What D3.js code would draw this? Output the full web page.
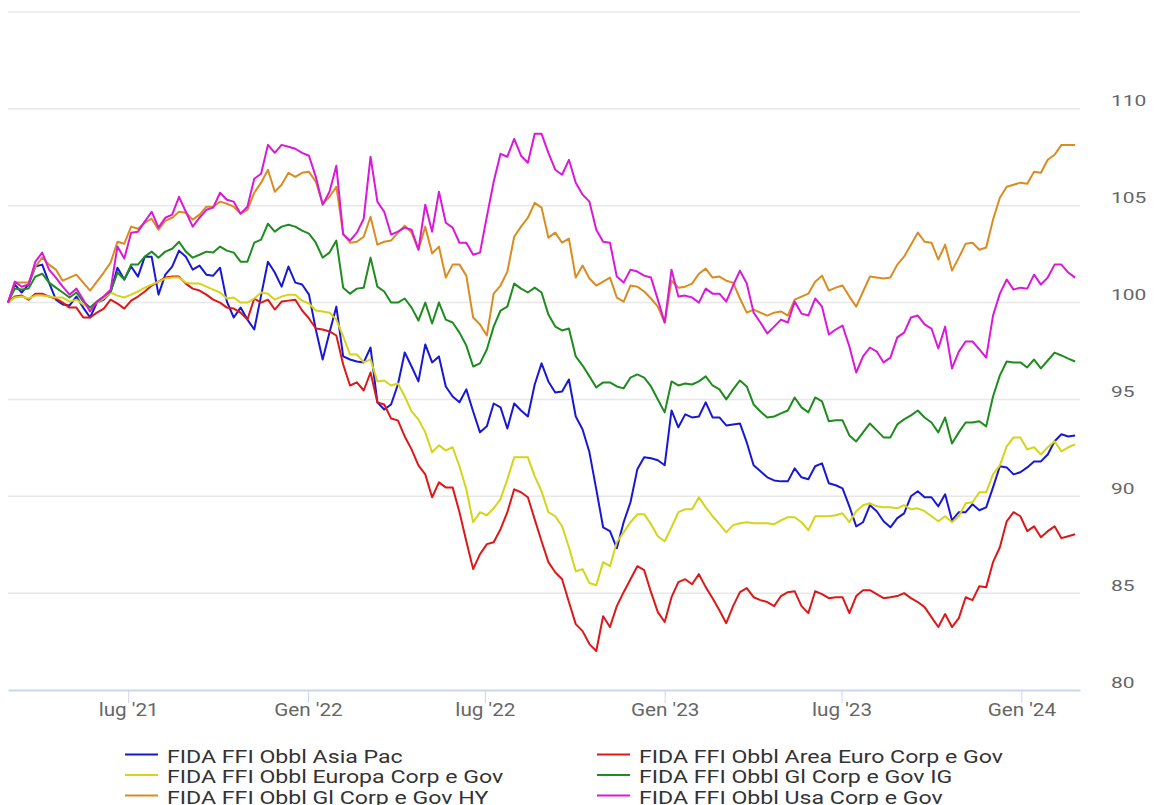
<!DOCTYPE html>
<html>
<head>
<meta charset="utf-8">
<script src="https://cdn.jsdelivr.net/npm/d3@7"></script>
<style>
  html, body { margin: 0; padding: 0; background: #ffffff; }
  svg { display: block; font-family: Roboto, "Noto Sans", sans-serif; }
</style>
</head>
<body>
<div id="chart"></div>
<script>
// weekly values, rebased to 100
const seriesNames = ["FIDA FFI Obbl Asia Pac", "FIDA FFI Obbl Area Euro Corp e Gov", "FIDA FFI Obbl Europa Corp e Gov",
    "FIDA FFI Obbl Gl Corp e Gov IG", "FIDA FFI Obbl Gl Corp e Gov HY", "FIDA FFI Obbl Usa Corp e Gov"];
const seriesColors = ["#1818d4", "#dc1818", "#d4d418", "#1e8c1e", "#da8c20", "#da18da"];

const asiaPac = [100.0, 100.93, 100.52, 100.93, 101.86, 101.96, 101.03, 100.15, 99.9, 99.85,
    100.31, 99.74, 99.23, 100.0, 100.15, 100.52, 101.8, 101.19, 101.86, 101.34,
    102.37, 102.37, 100.41, 101.44, 101.86, 102.68, 102.37, 101.7, 101.91, 101.44,
    101.39, 101.8, 100.05, 99.23, 99.74, 99.12, 98.61, 100.36, 102.11, 101.55,
    100.82, 101.86, 101.03, 100.93, 100.41, 98.61, 97.06, 98.45, 99.79, 97.22,
    97.06, 96.96, 96.91, 97.68, 94.85, 94.48, 94.74, 95.77, 97.42, 96.7,
    95.93, 97.84, 96.91, 97.22, 95.67, 95.15, 94.85, 95.52, 94.38, 93.3,
    93.61, 94.79, 94.59, 93.5, 94.79, 94.43, 94.12, 95.77, 96.86, 95.93,
    95.36, 95.41, 96.03, 94.12, 93.45, 92.27, 90.36, 88.4, 88.2, 87.32,
    88.66, 89.69, 91.39, 92.01, 91.96, 91.86, 91.6, 94.43, 93.56, 94.23,
    94.07, 94.12, 94.85, 94.07, 94.07, 93.66, 93.71, 93.76, 92.78, 91.6,
    91.29, 90.98, 90.82, 90.77, 90.77, 91.44, 90.98, 90.88, 91.55, 91.7,
    90.67, 90.57, 90.41, 89.48, 88.45, 88.66, 89.54, 89.23, 88.71, 88.4,
    88.87, 89.12, 90.0, 90.26, 89.95, 89.95, 89.48, 90.1, 88.76, 89.18,
    89.18, 89.59, 89.28, 89.43, 90.46, 91.55, 91.49, 91.13, 91.24, 91.49,
    91.8, 91.8, 92.16, 92.84, 93.2, 93.09, 93.14];

const areaEuro = [100.0, 100.31, 100.36, 100.15, 100.46, 100.46, 100.31, 100.21, 100.0, 99.74,
    99.74, 99.23, 99.23, 99.48, 99.69, 100.15, 99.95, 99.69, 100.1, 100.31,
    100.57, 100.88, 101.08, 101.29, 101.34, 101.34, 100.98, 100.72, 100.62, 100.41,
    100.15, 100.0, 99.74, 99.69, 99.48, 99.12, 100.21, 100.0, 100.15, 99.64,
    100.05, 100.1, 100.15, 99.59, 99.18, 98.66, 98.61, 98.51, 98.3, 96.8,
    95.72, 95.88, 95.46, 96.39, 94.85, 94.74, 94.02, 93.92, 93.09, 92.42,
    91.6, 91.13, 89.95, 90.72, 90.46, 90.46, 89.18, 87.68, 86.24, 87.01,
    87.53, 87.63, 88.3, 89.18, 90.36, 90.21, 89.95, 88.81, 87.68, 86.6,
    86.08, 85.72, 84.54, 83.4, 83.04, 82.37, 82.01, 83.81, 83.25, 84.33,
    85.05, 85.72, 86.39, 86.19, 85.05, 84.02, 83.51, 84.79, 85.57, 85.72,
    85.46, 85.98, 85.31, 84.74, 84.12, 83.45, 84.33, 85.05, 85.26, 84.79,
    84.64, 84.54, 84.33, 84.85, 85.05, 85.1, 84.33, 83.97, 85.1, 84.95,
    84.74, 84.79, 84.79, 83.97, 84.85, 85.15, 85.15, 84.95, 84.74, 84.79,
    84.85, 85.0, 84.74, 84.54, 84.28, 83.76, 83.25, 83.92, 83.25, 83.71,
    84.79, 84.64, 85.36, 85.31, 86.6, 87.37, 88.71, 89.18, 88.97, 88.2,
    88.45, 87.89, 88.2, 88.45, 87.84, 87.94, 88.04];

const europa = [100.0, 100.26, 100.31, 100.21, 100.36, 100.36, 100.31, 100.26, 100.26, 100.05,
    100.15, 99.9, 99.74, 100.0, 100.21, 100.52, 100.36, 100.26, 100.41, 100.57,
    100.77, 100.93, 101.08, 101.24, 101.29, 101.29, 101.03, 100.98, 100.98, 100.82,
    100.67, 100.52, 100.21, 100.26, 100.0, 100.0, 100.21, 100.52, 100.46, 100.15,
    100.31, 100.41, 100.41, 100.1, 99.95, 99.59, 99.54, 99.48, 99.12, 98.25,
    97.32, 97.32, 96.91, 97.06, 95.93, 95.98, 95.72, 95.82, 95.15, 94.38,
    93.97, 93.3, 92.27, 92.63, 92.37, 92.53, 91.55, 90.36, 88.66, 89.18,
    89.02, 89.38, 89.85, 90.88, 92.01, 92.01, 92.01, 91.03, 90.26, 89.18,
    88.97, 88.45, 87.37, 86.13, 86.24, 85.52, 85.41, 86.6, 86.39, 87.63,
    88.14, 88.66, 89.07, 89.07, 88.56, 87.94, 87.68, 88.4, 89.18, 89.33,
    89.33, 89.95, 89.43, 88.97, 88.56, 88.14, 88.51, 88.61, 88.66, 88.61,
    88.61, 88.61, 88.56, 88.76, 88.92, 88.92, 88.66, 88.25, 88.97, 88.97,
    88.97, 89.02, 89.12, 88.66, 89.23, 89.54, 89.64, 89.48, 89.43, 89.43,
    89.38, 89.54, 89.33, 89.38, 89.23, 88.97, 88.71, 88.97, 88.66, 88.97,
    89.64, 89.69, 90.21, 90.21, 91.13, 91.6, 92.58, 93.04, 93.04, 92.42,
    92.53, 92.16, 92.53, 92.84, 92.32, 92.53, 92.68];

const glIG = [100.0, 100.72, 100.67, 100.72, 101.34, 101.49, 101.03, 100.77, 100.52, 100.26,
    100.52, 100.05, 99.74, 100.05, 100.31, 100.57, 101.55, 101.19, 101.96, 101.96,
    102.37, 102.63, 102.32, 102.63, 102.78, 103.14, 102.63, 102.32, 102.47, 102.63,
    102.58, 102.89, 102.68, 102.58, 102.11, 102.11, 103.09, 103.25, 104.07, 103.66,
    103.92, 104.02, 103.92, 103.71, 103.56, 103.09, 102.32, 102.58, 103.2, 100.77,
    100.46, 100.72, 100.77, 102.32, 100.82, 100.57, 100.0, 100.0, 100.21, 99.74,
    99.07, 100.0, 98.92, 100.0, 99.12, 98.97, 98.45, 97.78, 96.7, 96.86,
    97.58, 98.76, 99.59, 99.79, 100.98, 100.72, 100.52, 100.77, 100.52, 99.38,
    98.76, 98.56, 98.66, 97.22, 96.75, 96.19, 95.62, 95.88, 95.88, 95.67,
    95.57, 96.13, 96.29, 96.13, 95.67, 95.0, 94.33, 95.93, 95.72, 95.82,
    95.77, 95.93, 96.19, 95.72, 95.52, 95.0, 95.52, 95.98, 95.67, 94.74,
    94.38, 94.07, 94.12, 94.28, 94.43, 95.1, 94.59, 94.33, 95.1, 94.9,
    93.87, 93.92, 93.92, 93.14, 92.83, 93.3, 93.76, 93.4, 93.04, 93.04,
    93.71, 93.97, 94.18, 94.43, 94.07, 93.81, 93.3, 94.07, 92.73, 93.3,
    93.81, 93.81, 93.87, 93.61, 95.15, 96.24, 96.96, 96.91, 96.91, 96.65,
    97.06, 96.6, 97.01, 97.42, 97.27, 97.11, 96.96];

const glHY = [100.0, 101.03, 101.03, 101.03, 101.86, 102.32, 101.96, 101.7, 101.13, 101.29,
    101.44, 101.03, 100.62, 101.08, 101.55, 102.06, 103.14, 103.04, 103.92, 103.81,
    104.12, 104.33, 103.76, 104.23, 104.38, 104.69, 104.64, 104.28, 104.54, 104.95,
    104.95, 105.21, 105.1, 104.95, 104.59, 104.79, 105.67, 106.19, 106.86, 105.72,
    106.08, 106.7, 106.49, 106.7, 106.75, 106.24, 105.1, 105.46, 105.98, 103.56,
    103.09, 103.14, 103.4, 104.43, 102.99, 103.14, 103.2, 103.61, 103.97, 103.61,
    102.73, 103.92, 102.53, 102.89, 101.29, 101.96, 101.96, 101.39, 99.23, 98.87,
    98.3, 100.46, 100.88, 101.6, 103.4, 103.92, 104.38, 105.15, 104.9, 103.35,
    103.61, 103.09, 103.3, 101.29, 101.91, 101.24, 100.88, 101.08, 101.29, 100.26,
    100.05, 100.88, 100.82, 100.57, 100.21, 99.79, 98.97, 101.13, 100.77, 100.82,
    100.98, 101.49, 101.75, 101.29, 101.34, 101.13, 101.03, 100.21, 99.48, 99.64,
    99.48, 99.33, 99.48, 99.54, 99.33, 100.15, 100.31, 100.46, 101.08, 101.39,
    100.62, 100.77, 100.88, 100.31, 99.79, 100.57, 101.34, 101.29, 101.24, 101.29,
    101.96, 102.37, 102.99, 103.61, 103.14, 103.09, 102.22, 102.99, 101.65, 102.32,
    103.04, 103.09, 102.73, 102.84, 104.28, 105.41, 105.98, 106.08, 106.19, 106.13,
    106.75, 106.7, 107.37, 107.63, 108.14, 108.14, 108.14];

const usa = [100.0, 101.08, 100.82, 100.93, 102.11, 102.58, 101.7, 101.29, 100.82, 100.41,
    100.72, 100.15, 99.54, 100.05, 100.31, 100.67, 102.89, 102.27, 103.61, 103.66,
    104.18, 104.69, 103.87, 104.38, 104.54, 105.46, 104.69, 103.92, 104.38, 104.79,
    104.9, 105.67, 105.31, 105.21, 104.59, 104.95, 106.39, 106.65, 108.14, 107.73,
    108.14, 108.04, 107.94, 107.73, 107.58, 106.49, 105.05, 105.72, 107.06, 103.51,
    103.2, 103.61, 104.33, 107.53, 105.21, 104.69, 103.51, 103.66, 103.87, 103.76,
    102.73, 105.05, 103.66, 105.72, 104.12, 103.87, 103.09, 103.09, 102.47, 102.58,
    104.43, 106.24, 107.68, 107.53, 108.45, 107.58, 107.22, 108.71, 108.71, 107.73,
    106.86, 106.6, 107.37, 106.19, 105.57, 105.21, 103.76, 103.14, 103.09, 101.34,
    101.03, 101.7, 101.6, 101.39, 101.29, 100.15, 98.97, 101.7, 100.31, 100.36,
    100.26, 100.0, 100.72, 100.46, 100.46, 100.05, 100.88, 101.65, 100.98, 99.48,
    98.97, 98.4, 98.76, 99.12, 98.97, 100.05, 99.43, 99.33, 100.21, 99.79,
    98.35, 98.61, 98.81, 97.73, 96.39, 97.22, 97.68, 97.47, 96.91, 97.16,
    98.2, 98.45, 99.23, 99.33, 98.87, 98.66, 97.63, 98.76, 96.6, 97.47,
    97.99, 97.99, 97.58, 97.16, 99.33, 100.46, 101.19, 100.67, 100.77, 100.72,
    101.44, 100.93, 101.29, 101.96, 101.96, 101.55, 101.29];

const firstWeek = "2021-02-28";
const xTickDates = ["2021-07-01", "2022-01-01", "2022-07-01", "2023-01-01", "2023-07-01", "2024-01-01"];
const xTickLabels = ["lug '21", "Gen '22", "lug '22", "Gen '23", "lug '23", "Gen '24"];
const yTickValues = [80, 85, 90, 95, 100, 105, 110];
const yGridValues = [85, 90, 95, 100, 105, 110, 115];

const allSeries = [asiaPac, areaEuro, europa, glIG, glHY, usa];

const width = 1165, height = 805;
const parseDay = d3.timeParse("%Y-%m-%d");
const start = parseDay(firstWeek);
const dates = asiaPac.map((v, i) => d3.timeDay.offset(start, i * 7));

let svg = d3.select("#chart").append("svg")
    .attr("width", width)
    .attr("height", height);

let x = d3.scaleTime()
    .domain([start, parseDay("2024-03-01")])
    .range([8, 1080]);

let y = d3.scaleLinear()
    .domain([80, 115])
    .range([690, 12]);

// grid
svg.append("g").selectAll("line")
    .data(yGridValues)
    .enter().append("line")
    .attr("x1", 8).attr("x2", 1080)
    .attr("y1", d => y(d)).attr("y2", d => y(d))
    .attr("stroke", "#e8e8e8")
    .attr("stroke-width", 1.5);

// x axis
let xAxis = d3.axisBottom(x)
    .tickValues(xTickDates.map(parseDay))
    .tickFormat((d, i) => xTickLabels[i])
    .tickSizeInner(13)
    .tickSizeOuter(0)
    .tickPadding(0);

let xAxisGroup = svg.append("g")
    .attr("transform", "translate(0," + y(80) + ")")
    .call(xAxis);

xAxisGroup.select(".domain").attr("stroke", "#ccd6eb").attr("stroke-width", 2);
xAxisGroup.selectAll(".tick line").attr("stroke", "#ccd6eb").attr("stroke-width", 1);
xAxisGroup.selectAll(".tick text")
    .attr("y", 26).attr("dy", 0)
    .attr("transform", "scale(1.15,1)")
    .style("font-family", "Roboto")
    .style("font-size", "18px")
    .attr("fill", "#666666");

// y axis labels on the right
let yAxis = d3.axisRight(y)
    .tickValues(yTickValues)
    .tickSize(0)
    .tickPadding(0);

let yAxisGroup = svg.append("g")
    .attr("transform", "translate(1111,0)")
    .call(yAxis);

yAxisGroup.select(".domain").remove();
yAxisGroup.selectAll(".tick text")
    .attr("x", 0).attr("dy", -3)
    .attr("transform", "scale(1.4,1)")
    .style("font-family", "Roboto")
    .style("font-size", "15px")
    .attr("fill", "#666666");

// lines
let line = d3.line()
    .x((d, i) => x(dates[i]))
    .y(d => y(d));

svg.append("g").selectAll("path")
    .data(allSeries)
    .enter().append("path")
    .attr("d", d => line(d))
    .attr("fill", "none")
    .attr("stroke", (d, i) => seriesColors[i])
    .attr("stroke-width", 2)
    .attr("stroke-linejoin", "round");

// legend, two columns
let legendCols = [125, 597];
let legendRows = [762.5, 783, 803.5];

let legend = svg.append("g").selectAll("g")
    .data(seriesNames)
    .enter().append("g")
    .attr("transform", (d, i) => "translate(" + legendCols[i % 2] + "," + legendRows[Math.floor(i / 2)] + ")");

legend.append("line")
    .attr("x1", 0).attr("x2", 33)
    .attr("y1", -8).attr("y2", -8)
    .attr("stroke", (d, i) => seriesColors[i])
    .attr("stroke-width", 2);

legend.append("text")
    .attr("transform", "translate(42,0) scale(1.3,1)")
    .style("font-family", "Roboto")
    .style("font-size", "17.8px")
    .attr("fill", "#333333")
    .text(d => d);
</script>
</body>
</html>
